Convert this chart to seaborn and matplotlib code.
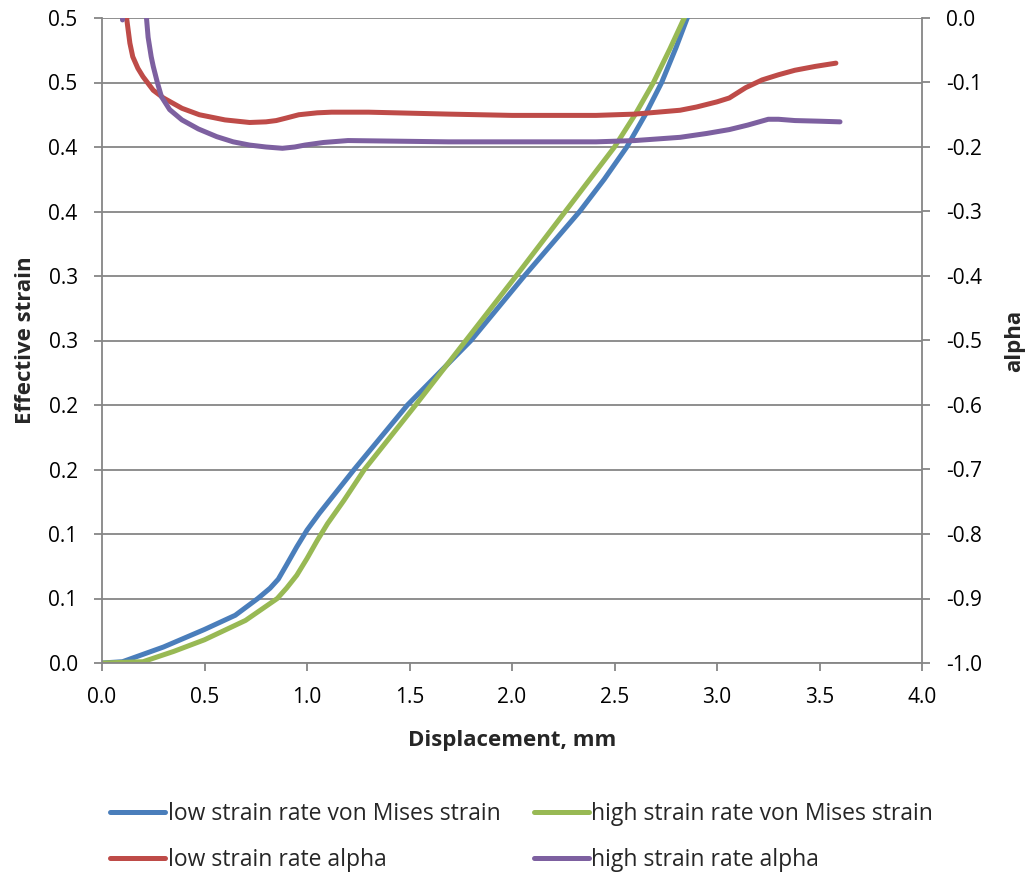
import numpy as np
import pandas as pd
import matplotlib
matplotlib.use("Agg")
import matplotlib.pyplot as plt
import seaborn as sns

# ---- data ----
low_vm_x = [0.0, 0.1, 0.3, 0.5, 0.65, 0.76, 0.82, 0.86, 0.90, 0.95, 1.0, 1.06, 1.14, 1.23, 1.49, 1.80, 2.06, 2.33, 2.45, 2.56, 2.65, 2.73, 2.80, 2.855, 2.9]
low_vm_y = [0.0, 0.001, 0.0124, 0.026, 0.037, 0.05, 0.058, 0.065, 0.076, 0.09, 0.103, 0.116, 0.132, 0.15, 0.20, 0.25, 0.30, 0.35, 0.375, 0.40, 0.425, 0.45, 0.477, 0.50, 0.515]

high_vm_x = [0.0, 0.2, 0.35, 0.5, 0.7, 0.855, 0.90, 0.95, 1.0, 1.05, 1.1, 1.18, 1.28, 1.53, 1.775, 2.02, 2.26, 2.50, 2.60, 2.69, 2.77, 2.84, 2.88]
high_vm_y = [0.0, 0.001, 0.009, 0.018, 0.033, 0.05, 0.058, 0.068, 0.081, 0.095, 0.108, 0.126, 0.15, 0.20, 0.25, 0.30, 0.35, 0.40, 0.425, 0.45, 0.476, 0.50, 0.512]

low_alpha_x = [0.1, 0.12, 0.136, 0.15, 0.175, 0.2, 0.25, 0.3, 0.39, 0.475, 0.6, 0.72, 0.8, 0.85, 0.9, 0.96, 1.05, 1.12, 1.3, 1.69, 2.0, 2.41, 2.6, 2.82, 2.9, 3.0, 3.06, 3.14, 3.22, 3.3, 3.38, 3.48, 3.58]
low_alpha_y = [0.15, 0.0, -0.039, -0.06, -0.078, -0.091, -0.112, -0.124, -0.140, -0.150, -0.158, -0.162, -0.161, -0.159, -0.155, -0.150, -0.147, -0.146, -0.146, -0.149, -0.151, -0.151, -0.149, -0.143, -0.138, -0.130, -0.124, -0.108, -0.096, -0.088, -0.081, -0.075, -0.070]

high_alpha_x = [0.1, 0.13, 0.2, 0.217, 0.225, 0.24, 0.25, 0.27, 0.29, 0.33, 0.39, 0.47, 0.56, 0.64, 0.72, 0.8, 0.88, 0.94, 0.99, 1.08, 1.20, 1.69, 2.41, 2.6, 2.82, 2.95, 3.06, 3.15, 3.25, 3.3, 3.38, 3.5, 3.60]
high_alpha_y = [-0.003, 0.2, 0.05, 0.0, -0.03, -0.06, -0.075, -0.10, -0.122, -0.142, -0.158, -0.172, -0.184, -0.192, -0.197, -0.200, -0.202, -0.200, -0.197, -0.193, -0.190, -0.192, -0.192, -0.190, -0.185, -0.179, -0.173, -0.166, -0.157, -0.157, -0.159, -0.160, -0.161]

x_ticks = [0.0, 0.5, 1.0, 1.5, 2.0, 2.5, 3.0, 3.5, 4.0]
x_ticklabels = ["0.0", "0.5", "1.0", "1.5", "2.0", "2.5", "3.0", "3.5", "4.0"]
left_ticks = [0.0, 0.05, 0.1, 0.15, 0.2, 0.25, 0.3, 0.35, 0.4, 0.45, 0.5]
left_ticklabels = ["0.0", "0.1", "0.1", "0.2", "0.2", "0.3", "0.3", "0.4", "0.4", "0.5", "0.5"]
right_ticks = [-1.0, -0.9, -0.8, -0.7, -0.6, -0.5, -0.4, -0.3, -0.2, -0.1, 0.0]
right_ticklabels = ["-1.0", "-0.9", "-0.8", "-0.7", "-0.6", "-0.5", "-0.4", "-0.3", "-0.2", "-0.1", "0.0"]

labels = ["low strain rate von Mises strain", "high strain rate von Mises strain",
          "low strain rate alpha", "high strain rate alpha"]
colors = ["#4A7EBB", "#98B954", "#BE4B48", "#7D60A0"]

# ---- style ----
sns.set_theme(style="white")
plt.rcParams['font.family'] = ['Open Sans', 'DejaVu Sans']

W, H = 1031, 875
fig = plt.figure(figsize=(W / 100, H / 100), dpi=100)
L, R, T, B = 102, 922, 18, 663
ax = fig.add_axes([L / W, 1 - B / H, (R - L) / W, (B - T) / H])
ax2 = ax.twinx()

lw = 3.6
kw = dict(sort=False, linewidth=lw, solid_capstyle='round', solid_joinstyle='round', legend=False)
sns.lineplot(x=low_vm_x, y=low_vm_y, ax=ax, color=colors[0], **kw)
sns.lineplot(x=high_vm_x, y=high_vm_y, ax=ax, color=colors[1], **kw)
sns.lineplot(x=low_alpha_x, y=low_alpha_y, ax=ax2, color=colors[2], **kw)
sns.lineplot(x=high_alpha_x, y=high_alpha_y, ax=ax2, color=colors[3], **kw)

gray = "#868686"
ax.set_xlim(0, 4.0)
ax.set_ylim(0, 0.5)
ax2.set_ylim(-1.0, 0.0)
ax.set_xticks(x_ticks)
ax.set_xticklabels(x_ticklabels)
ax.set_yticks(left_ticks)
ax.set_yticklabels(left_ticklabels)
ax2.set_yticks(right_ticks)
ax2.set_yticklabels(right_ticklabels)

ax.yaxis.grid(True, color=gray, linewidth=1.3)
ax.xaxis.grid(False)
ax2.grid(False)

for a in (ax, ax2):
    for s in a.spines.values():
        s.set_color(gray)
        s.set_linewidth(1.3)
    a.spines['top'].set_visible(False)
ax2.spines['left'].set_visible(False)
ax2.spines['bottom'].set_visible(False)
ax.spines['right'].set_visible(False)

tfs = 15
ax.tick_params(axis='y', which='both', left=True, direction='out', length=5.5, width=1.3,
               color=gray, pad=12, labelsize=tfs, labelcolor='black')
ax.tick_params(axis='x', which='both', bottom=True, direction='out', length=5.5, width=1.3,
               color=gray, pad=12, labelsize=tfs, labelcolor='black')
ax2.tick_params(axis='y', which='both', right=True, direction='out', length=5.5, width=1.3,
                color=gray, pad=12, labelsize=tfs, labelcolor='black')

lfs = 16
ax.set_xlabel("Displacement, mm", fontsize=lfs, fontweight='bold', labelpad=15.5)
ax.set_ylabel("Effective strain", fontsize=lfs, fontweight='bold', labelpad=9)
ax2.set_ylabel("alpha", fontsize=lfs, fontweight='bold', labelpad=16, rotation=90)

lines = ax.get_lines() + ax2.get_lines()
handles = [lines[0], lines[2], lines[1], lines[3]]
hl = [labels[0], labels[2], labels[1], labels[3]]
fig.legend(handles, hl, loc='upper left', bbox_to_anchor=(110 / W, 1 - 802 / H),
           ncol=2, frameon=False, fontsize=16.5, handlelength=2.4, handletextpad=0.12,
           columnspacing=1.44, labelspacing=0.95, borderpad=0, borderaxespad=0)

fig.savefig("out.png", dpi=100, facecolor='white')
